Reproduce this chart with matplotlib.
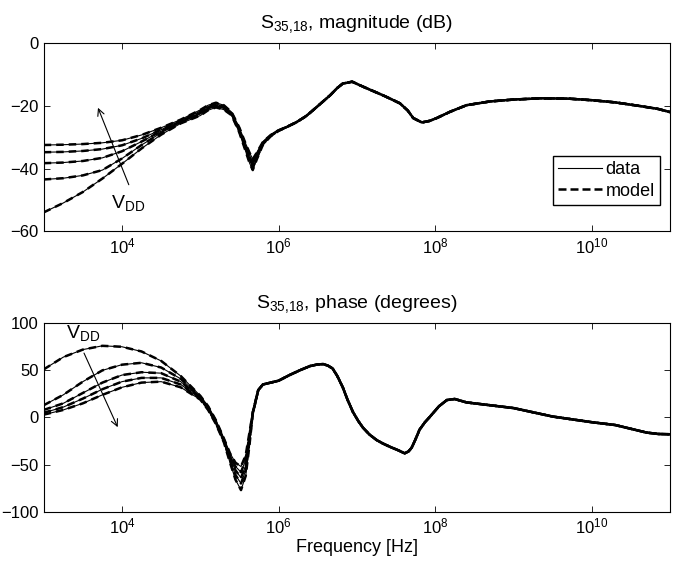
import numpy as np
import matplotlib.pyplot as plt
from matplotlib.lines import Line2D

plt.rcParams['font.family'] = ['Liberation Sans', 'DejaVu Sans']
plt.rcParams['font.size'] = 12
plt.rcParams['mathtext.fontset'] = 'custom'
plt.rcParams['mathtext.rm'] = 'Liberation Sans'
plt.rcParams['mathtext.it'] = 'Liberation Sans:italic'
plt.rcParams['mathtext.default'] = 'regular'

# magnitude: log10(frequency) where the five VDD curves differ
logf_mag_low = [3.0, 3.25, 3.5, 3.75, 4.0, 4.25, 4.5, 4.75, 5.0, 5.1, 5.2,
                5.3, 5.4, 5.5, 5.57, 5.63, 5.67, 5.72, 5.8, 5.9, 6.0]
mag_1 = [-32.5, -32.4, -32.2, -31.8, -31.0, -29.3, -27.0, -24.4, -21.3, -19.8, -19.0,
         -19.8, -22.0, -27.0, -31.5, -35.0, -37.0, -35.0, -31.5, -29.3, -27.8]
mag_2 = [-34.8, -34.7, -34.4, -33.8, -32.6, -30.4, -27.6, -24.7, -21.7, -20.2, -19.4,
         -20.1, -22.3, -27.4, -32.1, -35.8, -37.9, -35.6, -31.7, -29.4, -27.8]
mag_3 = [-38.3, -38.1, -37.6, -36.6, -34.5, -31.4, -28.1, -25.0, -22.2, -20.6, -19.8,
         -20.5, -22.5, -27.8, -32.7, -36.6, -38.8, -36.2, -31.9, -29.5, -27.9]
mag_4 = [-43.5, -43.1, -42.2, -40.5, -36.8, -32.5, -28.6, -25.3, -22.6, -21.0, -20.1,
         -20.8, -22.8, -28.2, -33.2, -37.4, -39.6, -36.7, -32.2, -29.6, -27.9]
mag_5 = [-54.0, -51.0, -47.5, -43.2, -38.5, -33.6, -29.2, -25.6, -23.1, -21.4, -20.5,
         -21.2, -23.0, -28.6, -33.8, -38.3, -40.5, -37.2, -32.4, -29.7, -28.0]

# magnitude above 1 MHz, same for all VDD
logf_mag_hi = [6.1, 6.23, 6.35, 6.44, 6.55, 6.66, 6.75, 6.82, 6.94, 7.08,
               7.2, 7.33, 7.45, 7.55, 7.65, 7.72, 7.83, 7.93, 8.02, 8.19,
               8.4, 8.7, 9.0, 9.34, 9.7, 10.0, 10.3, 10.6, 10.85, 11.0]
mag_hi = [-26.8, -25.2, -23.3, -21.4, -19.0, -16.6, -14.3, -12.9, -12.3, -13.9,
          -15.2, -16.6, -18.0, -19.2, -21.5, -23.9, -25.3, -24.8, -23.9, -21.9,
          -19.8, -18.6, -18.0, -17.6, -17.7, -18.2, -18.9, -20.0, -21.0, -22.0]

# phase (degrees)
logf_ph_low = [3.0, 3.25, 3.5, 3.75, 4.0, 4.25, 4.5, 4.75, 5.0, 5.1, 5.2,
               5.3, 5.38, 5.45, 5.52, 5.58, 5.63, 5.67, 5.74, 5.8]
ph_1 = [51, 64, 72, 76, 75, 70, 60, 44, 23, 12, -3, -22, -38, -48, -52, -40, -15, 5, 29, 35]
ph_2 = [13, 24, 38, 50, 56, 58, 53, 41, 22, 11, -4, -23, -40, -52, -58, -45, -18, 5, 29, 35]
ph_3 = [8, 15, 26, 37, 45, 48, 47, 38, 21, 10, -5, -24, -42, -56, -64, -51, -21, 5, 29, 35]
ph_4 = [5, 11, 20, 30, 38, 42, 42, 35, 20, 9, -6, -25, -45, -61, -70, -56, -24, 4, 29, 35]
ph_5 = [3, 8, 15, 24, 32, 37, 38, 32, 19, 8, -7, -26, -48, -66, -77, -62, -28, 4, 29, 35]

logf_ph_hi = [5.93, 6.0, 6.14, 6.27, 6.4, 6.5, 6.57, 6.63, 6.69, 6.75,
              6.82, 6.88, 6.95, 7.02, 7.08, 7.16, 7.25, 7.33, 7.42, 7.52,
              7.61, 7.66, 7.7, 7.75, 7.8, 7.87, 7.93, 8.05, 8.15, 8.25,
              8.4, 8.7, 9.0, 9.5, 10.0, 10.3, 10.5, 10.7, 10.85, 11.0]
ph_hi = [37.6, 39, 45, 50, 54.5, 56.3, 56.6, 55, 52, 44,
         32, 19, 5.8, -4, -11, -18, -23.8, -27.5, -31, -34.5,
         -38, -36, -32, -23, -13, -5, 0.5, 12, 18.5, 19.6,
         16, 13, 10, 1, -5, -8, -12, -16, -17.5, -17.8]

mag_low = [mag_1, mag_2, mag_3, mag_4, mag_5]
ph_low = [ph_1, ph_2, ph_3, ph_4, ph_5]

fig = plt.figure(figsize=(6.83, 5.68), dpi=100)
ax1 = fig.add_axes([0.064, 0.593, 0.917, 0.331])
ax2 = fig.add_axes([0.064, 0.099, 0.917, 0.332])

f_mag = 10 ** np.array(logf_mag_low + logf_mag_hi)
for m in mag_low:
    y = m + mag_hi
    ax1.semilogx(f_mag, y, 'k-', lw=0.8)                   # data
    ax1.semilogx(f_mag, y, 'k--', lw=1.8, dashes=(3, 2))   # model

f_ph = 10 ** np.array(logf_ph_low + logf_ph_hi)
for p in ph_low:
    y = p + ph_hi
    ax2.semilogx(f_ph, y, 'k-', lw=0.8)
    ax2.semilogx(f_ph, y, 'k--', lw=1.8, dashes=(3, 2))

ax1.set_ylim(-60, 0)
ax1.set_yticks([-60, -40, -20, 0])
ax2.set_ylim(-100, 100)
ax2.set_yticks([-100, -50, 0, 50, 100])

for ax in (ax1, ax2):
    ax.set_xlim(1e3, 1e11)
    ax.set_xticks([1e4, 1e6, 1e8, 1e10])
    ax.xaxis.set_minor_locator(plt.NullLocator())
    ax.tick_params(direction='in', top=True, right=True, length=4, width=0.6, labelsize=12)
    for s in ax.spines.values():
        s.set_linewidth(0.8)

ax1.set_title('S$_{35{,}18}$, magnitude (dB)', fontsize=14, pad=11)
ax2.set_title('S$_{35{,}18}$, phase (degrees)', fontsize=14, pad=11)
ax2.set_xlabel('Frequency [Hz]', fontsize=13, labelpad=2)

# legend
h = [Line2D([], [], color='k', lw=0.8), Line2D([], [], color='k', lw=1.8, ls='--', dashes=(3.2, 1.6))]
ax1.legend(h, ['data', 'model'], loc='lower right', bbox_to_anchor=(0.984, 0.138),
           fancybox=False, edgecolor='k', framealpha=1, fontsize=13,
           handlelength=2.4, handletextpad=0.2, borderpad=0.3, labelspacing=0.25,
           borderaxespad=0)

# VDD arrows
ax1.annotate('', xy=(10**3.68, -19.8), xytext=(10**4.1, -46),
             arrowprops=dict(arrowstyle='->', color='k', lw=0.8))
ax1.text(10**3.86, -52.5, 'V$_{DD}$', fontsize=14)
ax2.annotate('', xy=(10**3.96, -13), xytext=(10**3.5, 71),
             arrowprops=dict(arrowstyle='->', color='k', lw=0.8))
ax2.text(10**3.29, 84, 'V$_{DD}$', fontsize=14)

plt.savefig('out.png', dpi=100)
